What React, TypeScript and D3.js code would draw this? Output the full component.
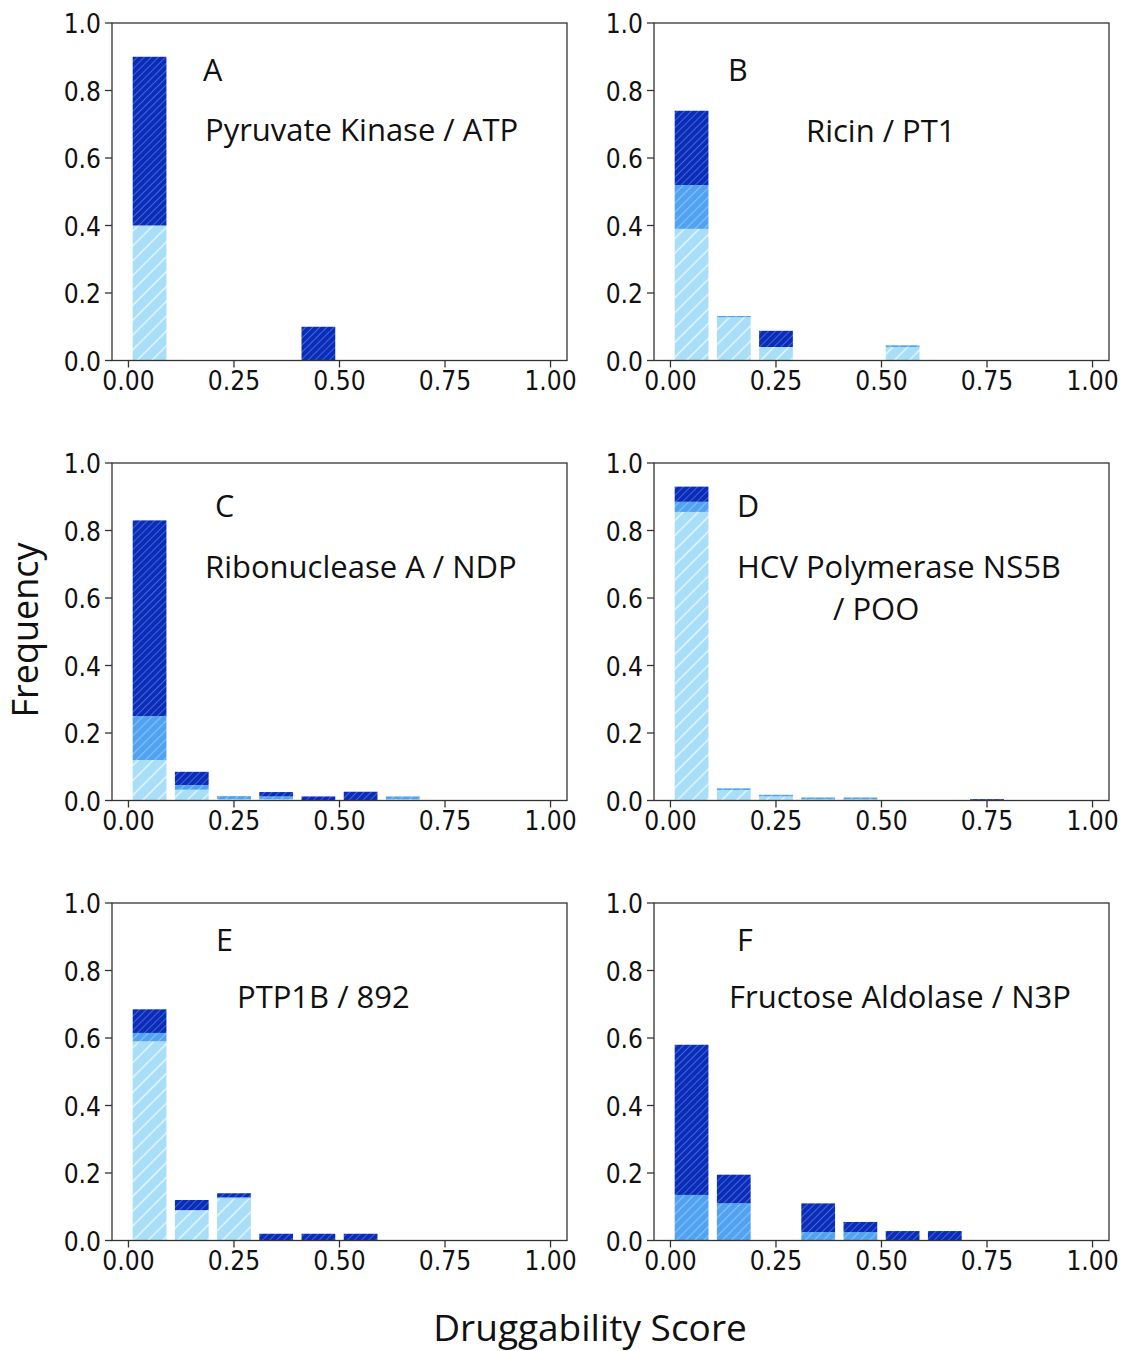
import React from "react";
import * as d3 from "d3";

// histogram bins (left edges), width 0.1
const binStarts = [0, 0.1, 0.2, 0.3, 0.4, 0.5, 0.6, 0.7, 0.8, 0.9];
const xTicks = [0, 0.25, 0.5, 0.75, 1];
const yTicks = [0, 0.2, 0.4, 0.6, 0.8, 1];
const levels = ["light", "medium", "dark"];

// A - Pyruvate Kinase / ATP
const aLight = [0.4, 0, 0, 0, 0, 0, 0, 0, 0, 0];
const aMedium = [0, 0, 0, 0, 0, 0, 0, 0, 0, 0];
const aDark = [0.5, 0, 0, 0, 0.1, 0, 0, 0, 0, 0];

// B - Ricin / PT1
const bLight = [0.39, 0.128, 0.04, 0, 0, 0.04, 0, 0, 0, 0];
const bMedium = [0.13, 0.004, 0, 0, 0, 0.005, 0, 0, 0, 0];
const bDark = [0.22, 0, 0.048, 0, 0, 0, 0, 0, 0, 0];

// C - Ribonuclease A / NDP
const cLight = [0.12, 0.032, 0.004, 0.004, 0, 0, 0.004, 0, 0, 0];
const cMedium = [0.13, 0.014, 0.009, 0.008, 0, 0, 0.008, 0, 0, 0];
const cDark = [0.58, 0.039, 0, 0.013, 0.012, 0.026, 0, 0, 0, 0];

// D - HCV Polymerase NS5B / POO
const dLight = [0.855, 0.031, 0.012, 0.004, 0.004, 0, 0, 0, 0, 0];
const dMedium = [0.03, 0.005, 0.005, 0.005, 0.005, 0, 0, 0, 0, 0];
const dDark = [0.045, 0, 0, 0, 0, 0, 0, 0.004, 0, 0];

// E - PTP1B / 892
const eLight = [0.59, 0.09, 0.125, 0, 0, 0, 0, 0, 0, 0];
const eMedium = [0.025, 0, 0.003, 0, 0, 0, 0, 0, 0, 0];
const eDark = [0.07, 0.03, 0.012, 0.02, 0.02, 0.02, 0, 0, 0, 0];

// F - Fructose Aldolase / N3P
const fLight = [0, 0, 0, 0, 0, 0, 0, 0, 0, 0];
const fMedium = [0.135, 0.11, 0, 0.025, 0.025, 0, 0, 0, 0, 0];
const fDark = [0.445, 0.085, 0, 0.085, 0.03, 0.028, 0.028, 0, 0, 0];

const letters = ["A", "B", "C", "D", "E", "F"];
const titles = [
  ["Pyruvate Kinase / ATP"],
  ["Ricin / PT1"],
  ["Ribonuclease A / NDP"],
  ["HCV Polymerase NS5B", "/ POO"],
  ["PTP1B / 892"],
  ["Fructose Aldolase / N3P"],
];
const series = [
  [aLight, aMedium, aDark],
  [bLight, bMedium, bDark],
  [cLight, cMedium, cDark],
  [dLight, dMedium, dDark],
  [eLight, eMedium, eDark],
  [fLight, fMedium, fDark],
];

// layout
const W = 1125;
const H = 1351;
const colLeft = [112, 654];
const rowTop = [23, 463, 903];
const boxW = 455;
const boxH = 337.5;

// annotation offsets inside each box: letter [dx, dy], title lines [dx, dy]
const letterPos = [[91, 58], [74, 58], [103, 54], [83, 54], [104, 48], [83, 48]];
const titlePos = [
  [[93, 118]],
  [[152, 119]],
  [[93, 115]],
  [[83, 115], [179, 157]],
  [[125, 105]],
  [[75, 105]],
];

const colors: Record<string, string> = {
  light: "#a8def8",
  medium: "#52a2f2",
  dark: "#0b2db6",
};
const hatch: Record<string, { c: string; s: number; w: number }> = {
  light: { c: "#ffffff", s: 10.5, w: 1.3 },
  medium: { c: "#94cdfa", s: 6.5, w: 1.1 },
  dark: { c: "#4d72e6", s: 5, w: 1 },
};

const tickFont = "'DejaVu Sans', sans-serif";
const labelFont = "'Open Sans', sans-serif";
const axisColor = "#333";
const stretch = 1.15;

const Panel = ({ i }: { i: number }) => {
  const L = colLeft[i % 2];
  const T = rowTop[Math.floor(i / 2)];
  const x = d3.scaleLinear().domain([-0.039, 1.039]).range([L, L + boxW]);
  const y = d3.scaleLinear().domain([0, 1]).range([T + boxH, T]);
  const [light, medium, dark] = series[i];
  const rows = binStarts.map((b, k) => ({ bin: b, light: light[k], medium: medium[k], dark: dark[k] }));
  const stacked = d3.stack<any>().keys(levels)(rows);
  const B = T + boxH;

  return (
    <g>
      {stacked.map((layer) =>
        layer.map((d, k) => {
          if (d[1] - d[0] <= 0) return null;
          const b = d.data.bin;
          return (
            <rect
              key={layer.key + k}
              x={x(b + 0.01)}
              width={x(b + 0.09) - x(b + 0.01)}
              y={y(d[1])}
              height={y(d[0]) - y(d[1])}
              fill={`url(#hatch-${layer.key})`}
            />
          );
        })
      )}
      <rect x={L} y={T} width={boxW} height={boxH} fill="none" stroke={axisColor} strokeWidth={1.3} />
      {xTicks.map((t) => (
        <g key={"x" + t}>
          <line x1={x(t)} x2={x(t)} y1={B} y2={B + 7} stroke={axisColor} strokeWidth={1.3} />
          <text
            transform={`translate(${x(t)},${B + 29.5}) scale(1,${stretch})`}
            textAnchor="middle"
            fontFamily={tickFont}
            fontSize={23.5}
            fill="#111"
          >
            {d3.format(".2f")(t)}
          </text>
        </g>
      ))}
      {yTicks.map((t) => (
        <g key={"y" + t}>
          <line x1={L - 7} x2={L} y1={y(t)} y2={y(t)} stroke={axisColor} strokeWidth={1.3} />
          <text
            transform={`translate(${L - 11},${y(t) + 10}) scale(1,${stretch})`}
            textAnchor="end"
            fontFamily={tickFont}
            fontSize={23.5}
            fill="#111"
          >
            {d3.format(".1f")(t)}
          </text>
        </g>
      ))}
      <text x={L + letterPos[i][0]} y={T + letterPos[i][1]} fontFamily={labelFont} fontSize={30.5} fill="#111">
        {letters[i]}
      </text>
      {titles[i].map((line, j) => (
        <text
          key={j}
          x={L + titlePos[i][j][0]}
          y={T + titlePos[i][j][1]}
          fontFamily={labelFont}
          fontSize={31}
          fill="#111"
        >
          {line}
        </text>
      ))}
    </g>
  );
};

export default function App() {
  return (
    <svg
      width={W}
      height={H}
      style={{ position: "absolute", left: 0, top: 0, background: "#fff" }}
    >
      <defs>
        {levels.map((k) => (
          <pattern
            key={k}
            id={`hatch-${k}`}
            patternUnits="userSpaceOnUse"
            width={hatch[k].s}
            height={hatch[k].s}
            patternTransform="rotate(45)"
          >
            <rect width={hatch[k].s} height={hatch[k].s} fill={colors[k]} />
            <line
              x1={hatch[k].s / 2}
              x2={hatch[k].s / 2}
              y1={0}
              y2={hatch[k].s}
              stroke={hatch[k].c}
              strokeWidth={hatch[k].w}
              strokeOpacity={0.8}
            />
          </pattern>
        ))}
      </defs>
      <rect width={W} height={H} fill="#fff" />
      {series.map((_, i) => (
        <Panel key={i} i={i} />
      ))}
      <text
        transform="translate(38,630) rotate(-90)"
        textAnchor="middle"
        fontFamily={labelFont}
        fontSize={36}
        fill="#111"
      >
        Frequency
      </text>
      <text x={590} y={1341} textAnchor="middle" fontFamily={labelFont} fontSize={37} fill="#111">
        Druggability Score
      </text>
    </svg>
  );
}
